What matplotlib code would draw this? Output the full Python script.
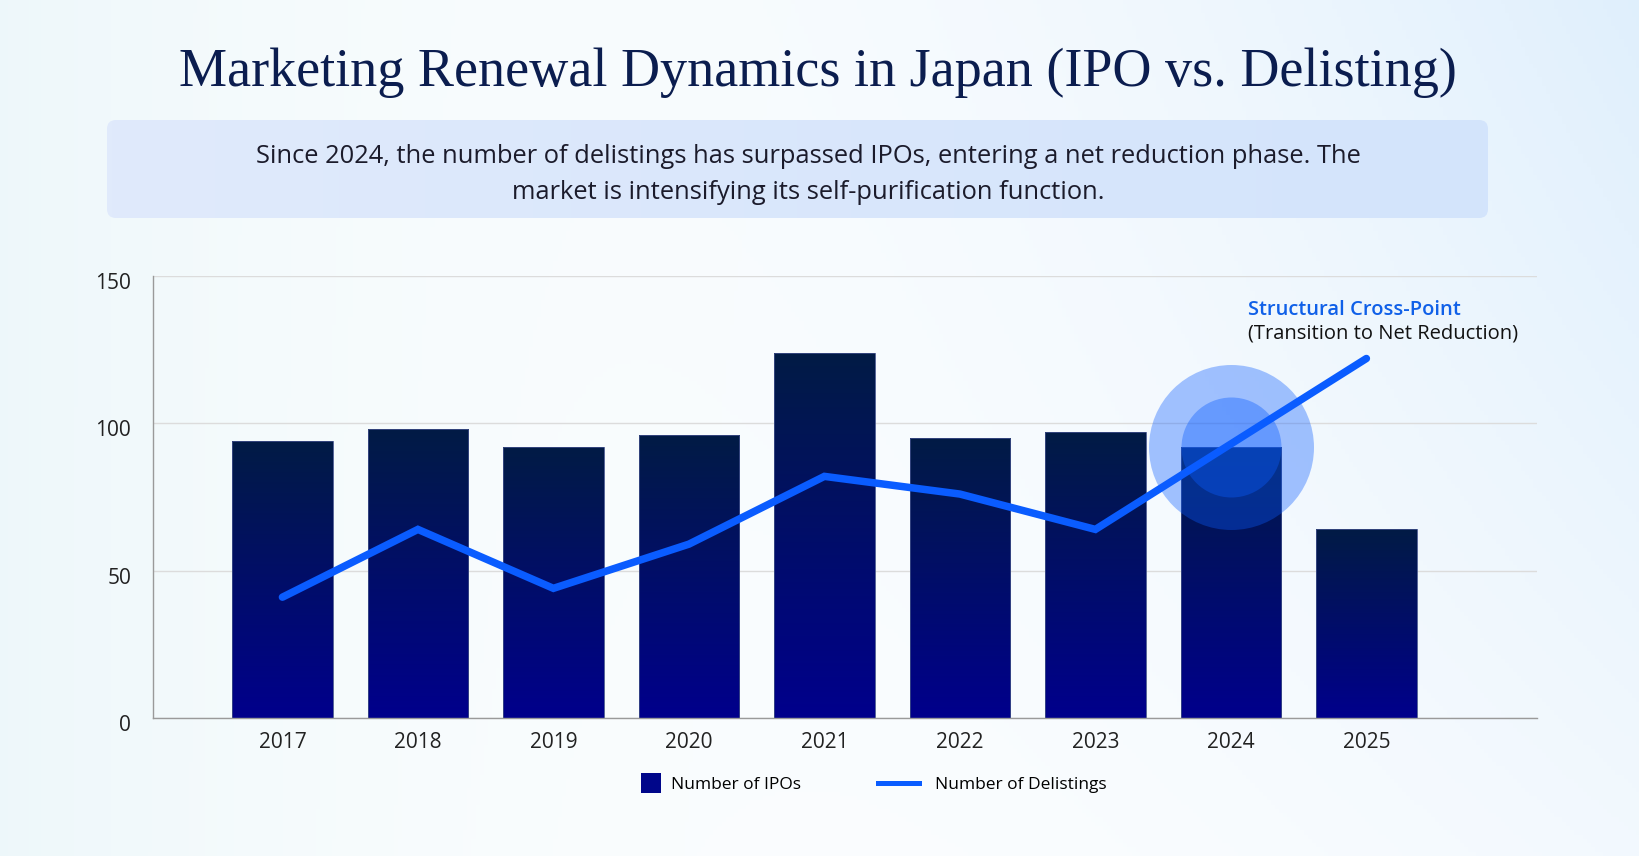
import numpy as np
import matplotlib.pyplot as plt
from matplotlib.patches import FancyBboxPatch, Rectangle
from matplotlib.lines import Line2D
from matplotlib.colors import LinearSegmentedColormap
from matplotlib.transforms import IdentityTransform, ScaledTranslation
from matplotlib.legend_handler import HandlerBase

years = ['2017', '2018', '2019', '2020', '2021', '2022', '2023', '2024', '2025']
ipos = [94, 98, 92, 96, 124, 95, 97, 92, 64]
delistings = [41, 64, 44, 59, 82, 76, 64, 93, 122]
y_ticks = [0, 50, 100, 150]
cross_year = '2024'

title = 'Marketing Renewal Dynamics in Japan (IPO vs. Delisting)'
subtitle_1 = 'Since 2024, the number of delistings has surpassed IPOs, entering a net reduction phase. The'
subtitle_2 = 'market is intensifying its self-purification function.'
note_head = 'Structural Cross-Point'
note_body = '(Transition to Net Reduction)'
legend_labels = ['Number of IPOs', 'Number of Delistings']

line_color = '#0a5cff'
bar_cmap = LinearSegmentedColormap.from_list('bars', ['#00008c', '#021b45'])
box_cmap = LinearSegmentedColormap.from_list('box', ['#e0eafb', '#d3e4fc'])

plt.rcParams['font.family'] = ['Open Sans', 'DejaVu Sans']

W, H = 1640, 856
fig = plt.figure(figsize=(W / 100, H / 100), dpi=100)

# soft page background
bg = fig.add_axes([0, 0, 1, 1], zorder=-10)
bg.axis('off')
yy, xx = np.mgrid[0:1:200j, 0:1:400j]
img = np.ones((200, 400, 3))
left_tint = np.array([0.925, 0.968, 0.980])
right_tint = np.array([0.870, 0.935, 0.990])
wl = np.clip((1 - xx) ** 3, 0, 1)[..., None] * 0.9
wr = np.clip(xx ** 2.2 * (1 - 0.6 * yy), 0, 1)[..., None] * 0.95
img = img * (1 - wl) + left_tint * wl
img = img * (1 - wr) + right_tint * wr
bg.imshow(img, extent=[0, 1, 0, 1], aspect='auto', origin='upper')

# subtitle box with a light left-to-right gradient
bx, by, bw, bh = 107, H - 218, 1381, 98
box = FancyBboxPatch((bx, by), bw, bh, boxstyle='round,pad=0,rounding_size=9',
                     transform=IdentityTransform(), facecolor='none', edgecolor='none')
bim = bg.imshow(np.linspace(0, 1, 256)[None, :], cmap=box_cmap, aspect='auto',
                extent=[bx / W, (bx + bw) / W, by / H, (by + bh) / H])
bim.set_clip_path(box)
bg.set_xlim(0, 1)
bg.set_ylim(0, 1)

fig.text(0.4988, 1 - 85.5 / H, title, ha='center', va='baseline',
         family=['Liberation Serif', 'DejaVu Serif'], fontsize=39, color='#0b1d4f')
fig.text(0.4927, 1 - 163.3 / H, subtitle_1, ha='center', va='baseline', fontsize=18.4, color='#1b1b2b')
fig.text(0.4927, 1 - 199 / H, subtitle_2, ha='center', va='baseline', fontsize=18.4, color='#1b1b2b')

ax = fig.add_axes([153.3 / W, 1 - 718 / H, (1536.7 - 153.3) / W, 442 / H])
ax.patch.set_alpha(0)
x = np.arange(len(years))

bars = ax.bar(x, ipos, width=0.74, facecolor='none', edgecolor='#3c4c86', linewidth=0.6, zorder=2)
grad = np.linspace(0, 1, 256)[:, None]
for b in bars:
    x0, w, h = b.get_x(), b.get_width(), b.get_height()
    im = ax.imshow(grad, extent=[x0, x0 + w, 0, h], origin='lower', aspect='auto',
                   cmap=bar_cmap, zorder=1.9)
    im.set_clip_path(b)

ci = years.index(cross_year)
ax.scatter([x[ci]], [ipos[ci]], s=14113, color=line_color, alpha=0.36, linewidths=0, zorder=3)
ax.scatter([x[ci]], [ipos[ci]], s=5184, color=line_color, alpha=0.38, linewidths=0, zorder=3)
ax.plot(x, delistings, color=line_color, lw=5.4, solid_capstyle='round', solid_joinstyle='miter', zorder=4)

ax.text(7.127, 136.7, note_head, color='#1060e8', fontsize=14.5, fontweight='semibold', va='baseline')
ax.text(7.127, 128.8, note_body, color='#111111', fontsize=14.5, va='baseline')

ax.set_xlim(-0.953, 9.257)
ax.set_ylim(0, 150)
ax.set_xticks(x, years)
ax.set_yticks(y_ticks)
ax.tick_params(length=0, labelsize=15, colors='#222222')
ax.tick_params(axis='y', pad=16)
ax.tick_params(axis='x', pad=10)
for lbl in ax.get_yticklabels():
    lbl.set_transform(lbl.get_transform() + ScaledTranslation(0, -0.05, fig.dpi_scale_trans))
ax.grid(axis='y', color='#dcdcdc', lw=1)
ax.set_axisbelow(True)
for s in ['top', 'right']:
    ax.spines[s].set_visible(False)
for s in ['left', 'bottom']:
    ax.spines[s].set_color('#9a9a9a')
    ax.spines[s].set_linewidth(1)


class SquareHandler(HandlerBase):
    # square hugging the right side of the handle box
    def create_artists(self, legend, orig_handle, xdescent, ydescent, width, height, fontsize, trans):
        side = 14.4
        x0 = width - xdescent - side + 4
        y0 = height / 2 - ydescent - side / 2
        r = Rectangle((x0, y0), side, side, facecolor=orig_handle.get_facecolor(),
                      edgecolor='none', transform=trans)
        return [r]


sq = Rectangle((0, 0), 1, 1, facecolor='#00068a')
ln = Line2D([], [], color=line_color, lw=3.6)
fig.legend([sq, ln], legend_labels, loc='center', bbox_to_anchor=(0.5245, 1 - 784.5 / H), ncol=2,
           frameon=False, fontsize=12.5, handlelength=2.36, handletextpad=0.92, columnspacing=4.4,
           handler_map={Rectangle: SquareHandler()})

fig.savefig('out.png', dpi=100)
